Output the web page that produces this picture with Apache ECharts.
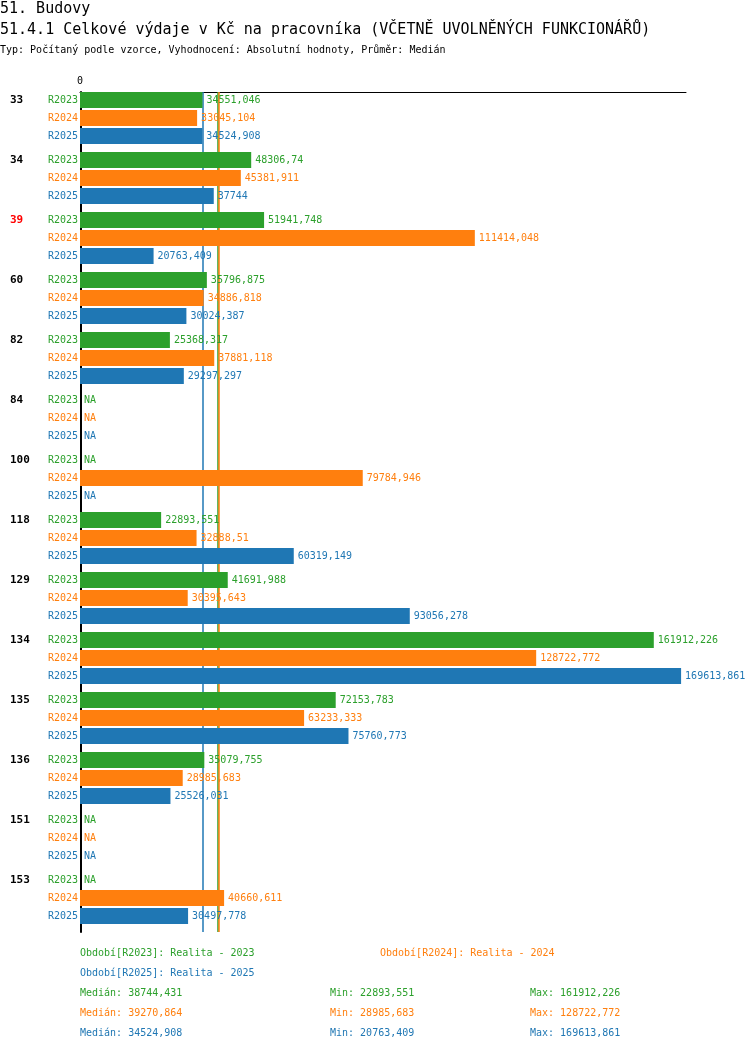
<!DOCTYPE html>
<html>
<head>
<meta charset="utf-8">
<script src="https://cdn.jsdelivr.net/npm/echarts@6/dist/echarts.min.js"></script>
<style>
  html, body { margin: 0; padding: 0; background: #fff; }
  #chart { width: 750px; height: 1052px; }
</style>
</head>
<body>
<div id="chart"></div>
<script>
// data
const categories = ['33', '34', '39', '60', '82', '84', '100', '118', '129', '134', '135', '136', '151', '153'];
const highlighted = ['39'];
const periods = ['R2023', 'R2024', 'R2025'];
const periodNames = ['Realita - 2023', 'Realita - 2024', 'Realita - 2025'];

const r2023 = [34551.046, 48306.74, 51941.748, 35796.875, 25368.317, null, null, 22893.551, 41691.988, 161912.226, 72153.783, 35079.755, null, null];
const r2024 = [33045.104, 45381.911, 111414.048, 34886.818, 37881.118, null, 79784.946, 32888.51, 30395.643, 128722.772, 63233.333, 28985.683, null, 40660.611];
const r2025 = [34524.908, 37744, 20763.409, 30024.387, 29297.297, null, null, 60319.149, 93056.278, 169613.861, 75760.773, 25526.031, null, 30497.778];

const medians = [38744.431, 39270.864, 34524.908];
const mins = [22893.551, 28985.683, 20763.409];
const maxs = [161912.226, 128722.772, 169613.861];

const colors = ['#2ca02c', '#ff7f0e', '#1f77b4'];
const FONT = 'DejaVu Sans Mono';

const fmt = v => (v == null ? 'NA' : String(v).replace('.', ','));

const chart = echarts.init(document.getElementById('chart'));

const seriesValues = [r2023, r2024, r2025];
const series = seriesValues.map((vals, i) => ({
  name: periods[i],
  type: 'bar',
  barWidth: 16,
  barGap: '12.5%',
  z: 2,
  itemStyle: { color: colors[i] },
  emphasis: { disabled: true },
  data: vals.map(v => (v == null ? 0 : v)),
  label: {
    show: true,
    position: 'right',
    distance: 4,
    color: colors[i],
    fontFamily: FONT,
    fontSize: 10,
    formatter: p => fmt(vals[p.dataIndex])
  },
  markLine: {
    silent: true,
    symbol: 'none',
    z: 1,
    label: { show: false },
    emphasis: { disabled: true },
    lineStyle: { color: colors[i], type: 'solid', width: 1.5, opacity: 1 },
    data: [{ xAxis: medians[i] }]
  }
}));
// empty spacer so each group of three sits at the top of its band
series.push({
  type: 'bar',
  barWidth: 6,
  barGap: '12.5%',
  silent: true,
  data: categories.map(() => null)
});

const rowStyle = (color, extra) => Object.assign({
  color: color, fontFamily: FONT, fontSize: 10, lineHeight: 18
}, extra);

const footer = [];
const footLeft = [80, 380, 80];
const footTop = [953, 953, 973];
periods.forEach((p, i) => {
  footer.push({
    type: 'text', left: footLeft[i], top: footTop[i] - 5,
    style: { text: 'Období[' + p + ']: ' + periodNames[i], fill: colors[i], font: '10px ' + FONT }
  });
  const y = 993 + i * 20 - 5;
  footer.push({ type: 'text', left: 80, top: y, style: { text: 'Medián: ' + fmt(medians[i]), fill: colors[i], font: '10px ' + FONT } });
  footer.push({ type: 'text', left: 330, top: y, style: { text: 'Min: ' + fmt(mins[i]), fill: colors[i], font: '10px ' + FONT } });
  footer.push({ type: 'text', left: 530, top: y, style: { text: 'Max: ' + fmt(maxs[i]), fill: colors[i], font: '10px ' + FONT } });
});

const option = {
  animation: false,
  backgroundColor: '#fff',
  title: [
    { text: '51. Budovy', left: 0, top: 2, padding: 0,
      textStyle: { fontFamily: FONT, fontSize: 15, fontWeight: 'normal', color: '#000' } },
    { text: '51.4.1 Celkové výdaje v Kč na pracovníka (VČETNĚ UVOLNĚNÝCH FUNKCIONÁŘŮ)', left: 0, top: 23, padding: 0,
      textStyle: { fontFamily: FONT, fontSize: 15, fontWeight: 'normal', color: '#000' } },
    { text: 'Typ: Počítaný podle vzorce, Vyhodnocení: Absolutní hodnoty, Průměr: Medián', left: 0, top: 45, padding: 0,
      textStyle: { fontFamily: FONT, fontSize: 10, fontWeight: 'normal', color: '#000' } }
  ],
  grid: { left: 80, right: 64, top: 92, bottom: 120, containLabel: false },
  xAxis: {
    type: 'value',
    position: 'top',
    min: 0,
    max: 171000,
    interval: 171000,
    splitLine: { show: false },
    axisTick: { show: false },
    axisLine: { show: true, lineStyle: { color: '#000', width: 1 } },
    axisLabel: {
      fontFamily: FONT, fontSize: 10, color: '#000', margin: 6,
      formatter: v => (v === 0 ? '0' : '')
    }
  },
  yAxis: {
    type: 'category',
    inverse: true,
    data: categories,
    offset: -1,
    axisTick: { show: false },
    axisLine: { show: true, lineStyle: { color: '#000', width: 2 } },
    axisLabel: {
      interval: 0,
      showMinLabel: true,
      showMaxLabel: true,
      hideOverlap: false,
      margin: 3,
      lineHeight: 18,
      padding: [0, 0, 8, 0],
      fontFamily: FONT,
      fontSize: 10,
      formatter: v => '{' + (highlighted.includes(v) ? 'r' : 'n') + '|' + v + '}{a|' + periods[0] + '}\n{b|' + periods[1] + '}\n{c|' + periods[2] + '}',
      rich: {
        n: rowStyle('#000', { width: 38, align: 'left', fontWeight: 'bold', fontSize: 11 }),
        r: rowStyle('#ff0000', { width: 38, align: 'left', fontWeight: 'bold', fontSize: 11 }),
        a: rowStyle(colors[0], { width: 30, align: 'right' }),
        b: rowStyle(colors[1], { width: 30, align: 'right' }),
        c: rowStyle(colors[2], { width: 30, align: 'right' })
      }
    }
  },
  graphic: footer,
  series: series
};

option && chart.setOption(option);
</script>
</body>
</html>
